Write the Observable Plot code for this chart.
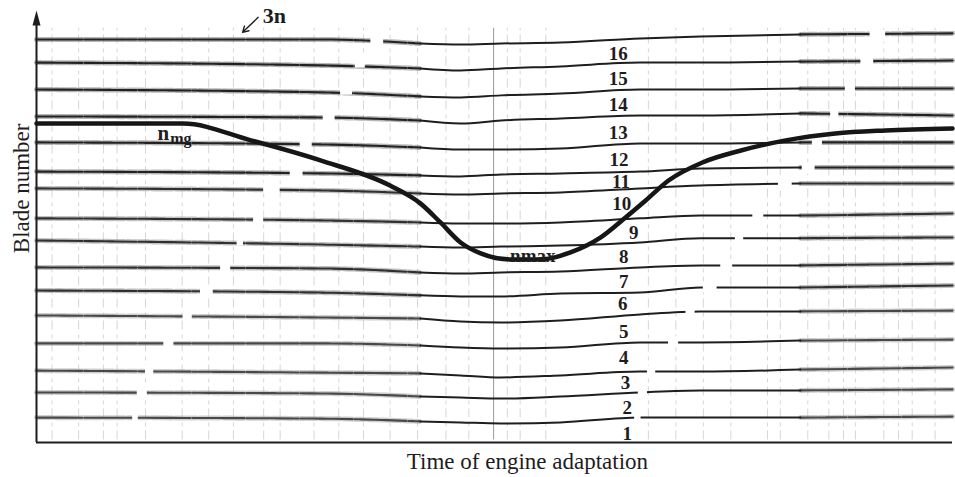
<!DOCTYPE html>
<html><head><meta charset="utf-8">
<script src="https://cdn.jsdelivr.net/npm/d3@7"></script>
<script src="https://cdn.jsdelivr.net/npm/@observablehq/plot@0.6"></script>
<style>html,body{margin:0;padding:0;background:#fff;overflow:hidden}</style>
</head><body><div id="chart"></div>
<script>
// ---- values (time 0–100, level in blade units) ----
const blades = [1,2,3,4,5,6,7,8,9,10,11,12,13,14,15,16];
const sampleTimes = [0, 31.0, 41.9, 46.3, 50.7, 57.2, 65.9, 72.5, 83.4, 100];
const trace1  = [0.98, 0.94, 0.83, 0.79, 0.75, 0.79, 0.98, 0.98, 0.98, 1.02];
const trace2  = [1.97, 1.93, 1.81, 1.77, 1.73, 1.81, 1.97, 2.05, 2.05, 2.09];
const trace3  = [2.83, 2.75, 2.72, 2.64, 2.56, 2.64, 2.79, 2.79, 2.87, 2.95];
const trace4  = [3.90, 3.90, 3.82, 3.74, 3.70, 3.74, 3.94, 3.94, 4.01, 4.05];
const trace5  = [5.00, 4.92, 4.88, 4.76, 4.72, 4.80, 5.04, 5.16, 5.16, 5.19];
const trace6  = [5.98, 5.90, 5.79, 5.75, 5.75, 5.86, 5.90, 6.10, 6.10, 6.18];
const trace7  = [6.89, 6.85, 6.69, 6.65, 6.69, 6.73, 6.89, 6.97, 6.97, 7.04];
const trace8  = [7.95, 7.79, 7.71, 7.67, 7.71, 7.75, 7.87, 8.04, 8.04, 8.07];
const trace9  = [8.82, 8.74, 8.66, 8.62, 8.62, 8.66, 8.82, 8.93, 8.93, 9.01];
const trace10 = [10.00, 9.92, 9.80, 9.76, 9.80, 9.84, 10.00, 10.11, 10.19, 10.19];
const trace11 = [10.66, 10.59, 10.51, 10.47, 10.55, 10.59, 10.66, 10.78, 10.82, 10.82];
const trace12 = [11.81, 11.73, 11.61, 11.53, 11.53, 11.57, 11.77, 11.77, 11.81, 11.81];
const trace13 = [12.83, 12.79, 12.67, 12.55, 12.67, 12.75, 12.87, 12.87, 12.95, 12.87];
const trace14 = [13.89, 13.78, 13.62, 13.58, 13.66, 13.73, 13.89, 13.89, 13.93, 13.93];
const trace15 = [14.95, 14.84, 14.72, 14.64, 14.72, 14.80, 14.95, 14.95, 14.99, 15.03];
const trace16 = [15.86, 15.86, 15.70, 15.66, 15.70, 15.74, 15.90, 15.98, 16.06, 16.10];
const traces = [trace1,trace2,trace3,trace4,trace5,trace6,trace7,trace8,trace9,trace10,trace11,trace12,trace13,trace14,trace15,trace16];

const gapLeftStart  = [10.5, 11.0, 11.9, 13.9, 16.0, 17.9, 20.1, 21.9, 23.7, 24.8, 27.7, 28.8, 31.3, 33.2, 34.8, 36.5];
const gapLeftEnd    = [11.1, 12.1, 12.8, 15.0, 17.0, 19.3, 21.2, 22.6, 24.8, 26.6, 29.1, 30.1, 32.6, 34.5, 35.9, 37.9];
const gapRightStart = [65.3, 65.7, 66.7, 69.0, 70.9, 72.8, 74.7, 76.3, 78.2, 81.0, 83.6, 84.7, 86.7, 88.3, 90.0, 91.0];
const gapRightEnd   = [66.0, 66.7, 67.6, 70.1, 71.9, 74.3, 76.0, 77.2, 79.4, 82.5, 85.0, 85.8, 87.6, 89.4, 91.4, 92.7];
const smoothStart = 41.9, smoothEnd = 83.4;

// rotor speed curve n
const speedTime  = [0, 16.0, 23.4, 31.0, 38.6, 41.9, 44.1, 46.3, 48.5, 51.7, 55.0, 58.3, 61.6, 64.3, 66.5, 69.0, 72.7, 76.9, 81.8, 87.2, 92.7, 100];
const speedLevel = [12.55, 12.55, 11.89, 11.10, 10.11, 9.41, 8.66, 7.87, 7.44, 7.20, 7.20, 7.48, 8.07, 8.85, 9.52, 10.31, 11.02, 11.49, 11.89, 12.16, 12.28, 12.36];

// blade number labels
const labelTime  = [64.5, 64.5, 64.3, 64.1, 64.1, 64.0, 64.1, 64.1, 65.2, 63.9, 63.8, 63.6, 63.5, 63.5, 63.5, 63.5];
const labelLevel = [0.35, 1.38, 2.36, 3.31, 4.37, 5.47, 6.30, 7.32, 8.26, 9.40, 10.24, 11.14, 12.20, 13.30, 14.29, 15.31];

// faint vertical timing marks
const markTimes = [1.7, 4.6, 7.3, 8.8, 11.9, 15.9, 18.8, 21.5, 24.8, 26.6, 30.3, 33.0, 35.7, 38.6, 41.6, 44.7, 47.2, 51.4, 52.8, 55.6, 66.8, 69.8, 72.8, 75.8, 79.8, 81.2, 84.2, 86.5, 88.1, 89.4, 92.5, 94.1, 95.6, 98.1];
const strongMark = [49.9];

// ---- build tables ----
const rows = [];
traces.forEach((lv, i) => sampleTimes.forEach((t, j) => rows.push({blade: blades[i], t, v: lv[j]})));
const noisy = rows.filter(d => d.t <= smoothStart).map(d => ({...d, z: d.blade + "L"}))
  .concat(rows.filter(d => d.t >= smoothEnd).map(d => ({...d, z: d.blade + "R"})));
const smooth = rows.filter(d => d.t >= smoothStart && d.t <= smoothEnd);
const gaps = blades.flatMap((b, i) => [
  {x1: gapLeftStart[i], x2: gapLeftEnd[i], v: traces[i][0]},
  {x1: gapRightStart[i], x2: gapRightEnd[i], v: traces[i][7]}
]);
const speed = speedTime.map((t, i) => ({t, v: speedLevel[i]}));
const labels = blades.map((b, i) => ({b, t: labelTime[i], v: labelLevel[i]}));

const ink = "#1f1c1d";
const yTop = 16.41;
const spike = {draw(ctx, size) { const r = Math.sqrt(size / Math.PI); ctx.moveTo(0, -3 * r); ctx.lineTo(0.8 * r, 0); ctx.lineTo(-0.8 * r, 0); ctx.closePath(); }};
const noisyColor = d => d.blade >= 11 ? "#222" : d.blade >= 6 ? "#303030" : "#484848";
const haloColor = d => d.blade >= 11 ? "#6e6e6e" : d.blade >= 6 ? "#858585" : "#a0a0a0";

const plot = Plot.plot({
  width: 955, height: 477,
  marginTop: 10, marginBottom: 35, marginLeft: 36, marginRight: 3,
  x: {domain: [0, 100], axis: null},
  y: {domain: [0, 17], axis: null},
  style: {fontFamily: "'Liberation Serif', 'Times New Roman', serif", background: "white", color: ink},
  marks: [
    Plot.ruleX(markTimes, {y1: 0.1, y2: 16.3, stroke: "#d6d6d6", strokeWidth: 1, strokeDasharray: "9,4,4,5"}),
    Plot.ruleX(strongMark, {y1: 0.1, y2: 16.3, stroke: "#9a9a9a", strokeWidth: 1}),
    Plot.line(noisy, {x: "t", y: "v", z: "z", curve: "monotone-x", stroke: haloColor, strokeWidth: 5, strokeOpacity: 0.5, strokeDasharray: "3,1,1,2,6,1,2,3,4,1"}),
    Plot.line(noisy, {x: "t", y: "v", z: "z", curve: "monotone-x", stroke: noisyColor, strokeWidth: 2.1, strokeDasharray: "14,1,6,1,3,1,20,2,5,1"}),
    Plot.line(smooth, {x: "t", y: "v", z: "blade", curve: "monotone-x", stroke: "#1e1e1e", strokeWidth: 2}),
    Plot.rect(gaps, {x1: "x1", x2: "x2", y1: d => d.v - 0.22, y2: d => d.v + 0.22, fill: "white"}),
    Plot.ruleY([0], {x1: 0, x2: 100, stroke: ink, strokeWidth: 2}),
    Plot.ruleX([0], {y1: 0, y2: yTop, stroke: ink, strokeWidth: 2}),
    Plot.dot([0], {x: 0, y: yTop, symbol: spike, r: 5, fill: ink, stroke: "none"}),
    Plot.line(speed, {x: "t", y: "v", curve: "monotone-x", stroke: "#161616", strokeWidth: 4.5}),
    Plot.text(labels, {x: "t", y: "v", text: "b", fontSize: 19, fontWeight: "bold", fill: ink, textAnchor: "middle", lineAnchor: "middle"}),
    Plot.text(["3n"], {x: 24.7, y: 16.49, fontSize: 22, fontWeight: "bold", fill: ink, textAnchor: "start", lineAnchor: "bottom"}),
    Plot.arrow([0], {x1: 24.2, y1: 16.73, x2: 22.5, y2: 16.14, stroke: ink, strokeWidth: 1.4, headLength: 7}),
    Plot.text(["n"], {x: 13.2, y: 11.89, fontSize: 21, fontWeight: "bold", fill: ink, textAnchor: "start", lineAnchor: "bottom"}),
    Plot.text(["mg"], {x: 14.6, y: 11.73, fontSize: 16, fontWeight: "bold", fill: ink, textAnchor: "start", lineAnchor: "bottom"}),
    Plot.text(["nmax"], {x: 51.7, y: 7.12, fontSize: 19, fontWeight: "bold", fill: ink, textAnchor: "start", lineAnchor: "bottom"}),
    Plot.text(["Time of engine adaptation"], {x: 53.6, frameAnchor: "bottom", dy: 26, fontSize: 23, fill: ink, textAnchor: "middle", lineAnchor: "bottom"}),
    Plot.text(["Blade number"], {y: 10.0, frameAnchor: "left", dx: -8, rotate: -90, fontSize: 23, fill: ink, textAnchor: "middle", lineAnchor: "bottom"})
  ]
});
document.getElementById("chart").appendChild(plot);
</script>
</body></html>
